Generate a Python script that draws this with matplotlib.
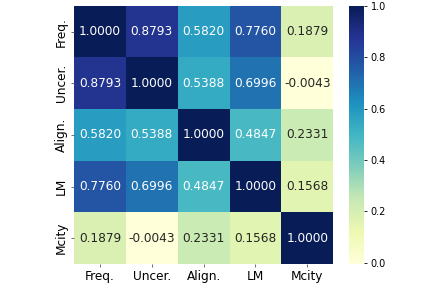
import numpy as np
import matplotlib
matplotlib.use("Agg")
import matplotlib.pyplot as plt
import seaborn as sns

labels = ["Freq.", "Uncer.", "Align.", "LM", "Mcity"]
corr = [
    [1.0000, 0.8793, 0.5820, 0.7760, 0.1879],
    [0.8793, 1.0000, 0.5388, 0.6996, -0.0043],
    [0.5820, 0.5388, 1.0000, 0.4847, 0.2331],
    [0.7760, 0.6996, 0.4847, 1.0000, 0.1568],
    [0.1879, -0.0043, 0.2331, 0.1568, 1.0000],
]

fig = plt.figure(figsize=(4.46, 2.84), dpi=100)
ax = fig.add_axes([0.166, 0.0704, 0.581, 0.909])
cax = fig.add_axes([0.783, 0.0704, 0.034, 0.909])
sns.heatmap(np.array(corr), annot=True, fmt=".4f", cmap="YlGnBu",
            xticklabels=labels, yticklabels=labels, ax=ax, cbar_ax=cax,
            annot_kws={"fontsize": 8.7})
ax.set_yticklabels(labels, rotation=90, va="center", fontsize=8.7)
ax.set_xticklabels(labels, rotation=0, fontsize=8.7)
ax.tick_params(length=2.5, width=0.6, color="#555555", pad=2)
cax.tick_params(labelsize=7, length=2.5, width=0.6, pad=2)
fig.savefig("out.png", dpi=100)
